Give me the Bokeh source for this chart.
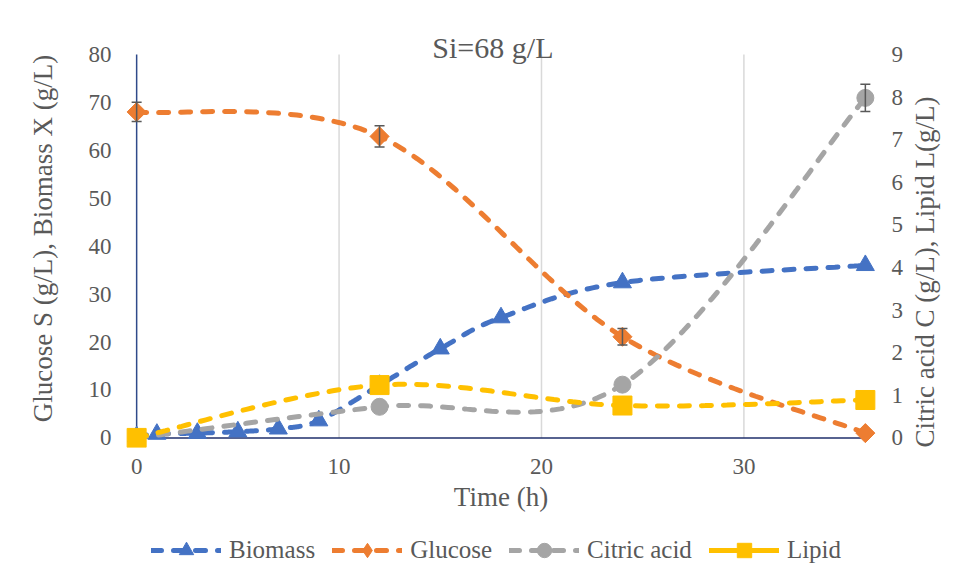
import numpy as np
from bokeh.plotting import figure
from bokeh.layouts import column
from bokeh.models import Range1d, LinearAxis, FixedTicker, Legend, LegendItem, Label
from bokeh.embed import file_html
from bokeh.resources import INLINE

# ---- data ----
time_biomass = [0, 1, 3, 5, 7, 9, 12, 15, 18, 24, 36]
biomass = [0.3, 0.8, 1.0, 1.3, 1.9, 3.6, 11.0, 18.6, 25.1, 32.4, 36.0]
time_main = [0, 12, 24, 36]
glucose = [68.0, 62.9, 21.1, 1.0]
glucose_err = [2.0, 2.2, 1.7, 0.0]
citric = [0.0, 0.73, 1.25, 7.98]
citric_err = [0.0, 0.0, 0.0, 0.32]
lipid = [0.0, 1.24, 0.76, 0.89]
x_ticks = [0, 10, 20, 30]
left_ticks = [0, 10, 20, 30, 40, 50, 60, 70, 80]
right_ticks = [0, 1, 2, 3, 4, 5, 6, 7, 8, 9]
series_names = ["Biomass", "Glucose", "Citric acid", "Lipid"]
X_MAX, Y_MAX = 36, 80

FONT = "Liberation Serif"
TXT = "#595959"
C_BIO, C_GLU, C_CIT, C_LIP = "#4472C4", "#ED7D31", "#A5A5A5", "#FFC000"
LW = 5
DASH = "10 12"


def smooth(xs, ys, n=40):
    """Excel-like smoothed line (Catmull-Rom as cubic Bezier) for drawing only."""
    P = np.column_stack([xs, ys]).astype(float)
    out = []
    m = len(P)
    for i in range(m - 1):
        p0 = P[i - 1] if i > 0 else P[i]
        p1, p2 = P[i], P[i + 1]
        p3 = P[i + 2] if i + 2 < m else P[i + 1]
        c1 = p1 + (p2 - p0) / 6.0
        c2 = p2 - (p3 - p1) / 6.0
        t = np.linspace(0, 1, n)[:, None]
        seg = ((1 - t) ** 3) * p1 + 3 * ((1 - t) ** 2) * t * c1 + 3 * (1 - t) * t ** 2 * c2 + t ** 3 * p2
        out.append(seg if i == 0 else seg[1:])
    a = np.vstack(out)
    return a[:, 0], a[:, 1]


BL, FW, BR = 124, 753, 80
W = BL + FW + BR

p = figure(
    frame_width=FW, frame_height=418,
    min_border_left=BL, min_border_right=BR, min_border_top=29, min_border_bottom=75,
    x_range=Range1d(-0.6, 36.6), y_range=Range1d(-2, 85.2),
    output_backend="svg", toolbar_location=None,
)
p.extra_y_ranges = {"right": Range1d(-0.225, 9.585)}
p.outline_line_color = None
p.background_fill_color = "white"
p.border_fill_color = "white"
p.xgrid.grid_line_color = None
p.ygrid.grid_line_color = None


def style_axis(ax, ticks, standoff):
    ax.ticker = FixedTicker(ticks=ticks)
    ax.axis_line_color = None
    ax.major_tick_line_color = None
    ax.minor_tick_line_color = None
    ax.major_tick_out = 0
    ax.major_tick_in = 0
    ax.minor_tick_out = 0
    ax.major_label_text_font = FONT
    ax.major_label_text_font_size = "23px"
    ax.major_label_text_color = TXT
    ax.major_label_standoff = standoff
    ax.axis_label_text_font = FONT
    ax.axis_label_text_font_size = "27px"
    ax.axis_label_text_color = TXT
    ax.axis_label_text_font_style = "normal"


style_axis(p.xaxis[0], x_ticks, 11)
p.xaxis[0].axis_label = "Time (h)"
p.xaxis[0].axis_label_standoff = 5
style_axis(p.yaxis[0], left_ticks, 13)
p.yaxis[0].axis_label = "Glucose S (g/L), Biomass X (g/L)"
p.yaxis[0].axis_label_standoff = 28

ry = LinearAxis(y_range_name="right")
style_axis(ry, right_ticks, 14)
ry.axis_label = "Citric acid C (g/L), Lipid L(g/L)"
ry.axis_label_standoff = 19
try:
    ry.axis_label_align = "start"
    ry.axis_label_orientation = np.pi / 2
except Exception:
    pass
p.add_layout(ry, "right")

# vertical gridlines (stop at the top of the value range)
gx = [t for t in x_ticks if t > 0]
p.segment(x0=gx, y0=[0] * len(gx), x1=gx, y1=[Y_MAX] * len(gx), line_color="#D9D9D9", line_width=1.5)
# axis lines at x=0 and y=0
p.segment(x0=[0], y0=[0], x1=[0], y1=[Y_MAX], line_color="#2F4A8A", line_width=1.5)
p.segment(x0=[0], y0=[0], x1=[X_MAX], y1=[0], line_color="#1F2F6B", line_width=1.5)


def series(fig, x, y, color, marker, size, yname="default", angle=0.0, dash=DASH):
    sx, sy = smooth(x, y)
    ln = fig.line(sx, sy, line_color=color, line_width=LW, line_dash=dash, line_cap="round",
                  y_range_name=yname)
    mk = fig.scatter(x, y, marker=marker, size=size, fill_color=color, line_color=color,
                     angle=angle, y_range_name=yname)
    return ln, mk


def errbars(x, y, e, yname="default"):
    xs = [xi for xi, ei in zip(x, e) if ei > 0]
    lo = [yi - ei for yi, ei in zip(y, e) if ei > 0]
    hi = [yi + ei for yi, ei in zip(y, e) if ei > 0]
    p.segment(x0=xs, y0=lo, x1=xs, y1=hi, line_color=TXT, line_width=1.5, y_range_name=yname)
    p.scatter(xs + xs, lo + hi, marker="dash", size=10, line_color=TXT, line_width=1.5,
              y_range_name=yname)


SPECS = [
    (time_biomass, biomass, C_BIO, "triangle", 18, "default", 0.0),
    (time_main, glucose, C_GLU, "square", 13.5, "default", np.pi / 4),
    (time_main, citric, C_CIT, "circle", 17, "right", 0.0),
    (time_main, lipid, C_LIP, "square", 19, "right", 0.0),
]

for i, (x, y, col, mk, sz, yn, ang) in enumerate(SPECS):
    series(p, x, y, col, mk, sz, yname=yn, angle=ang)
    if i == 1:
        errbars(time_main, glucose, glucose_err)
    if i == 2:
        errbars(time_main, citric, citric_err, yname="right")

title = Label(x=17.6, y=Y_MAX, y_offset=7, text="Si=68 g/L", text_font=FONT, text_font_size="30px",
              text_color=TXT, text_align="center", text_baseline="middle")
p.add_layout(title)

# ---- legend strip (small figure under the chart; its series lie outside its view) ----
lg = figure(width=W, height=52, min_border=0, x_range=Range1d(0, 1), y_range=Range1d(1000, 1001),
            output_backend="svg", toolbar_location=None)
lg.extra_y_ranges = {"right": Range1d(1000, 1001)}
lg.axis.visible = False
lg.grid.visible = False
lg.outline_line_color = None
items = []
for name, (x, y, col, mk, sz, yn, ang) in zip(series_names, SPECS):
    dash = "solid" if name == "Lipid" else DASH
    mk_l = "diamond" if name == "Glucose" else mk
    r1, r2 = series(lg, x, y, col, mk_l, sz, yname=yn, angle=0.0, dash=dash)
    items.append(LegendItem(label=name, renderers=[r1, r2]))

legend = Legend(
    items=items, orientation="horizontal", location=(27, 6),
    glyph_width=70, glyph_height=36, label_standoff=8, spacing=17,
    padding=0, margin=0, border_line_color=None, background_fill_alpha=0,
    label_text_font=FONT, label_text_font_size="25px", label_text_color=TXT,
)
lg.add_layout(legend, "center")

layout = column(p, lg, spacing=0)
open("out.html", "w").write(file_html(layout, INLINE))
